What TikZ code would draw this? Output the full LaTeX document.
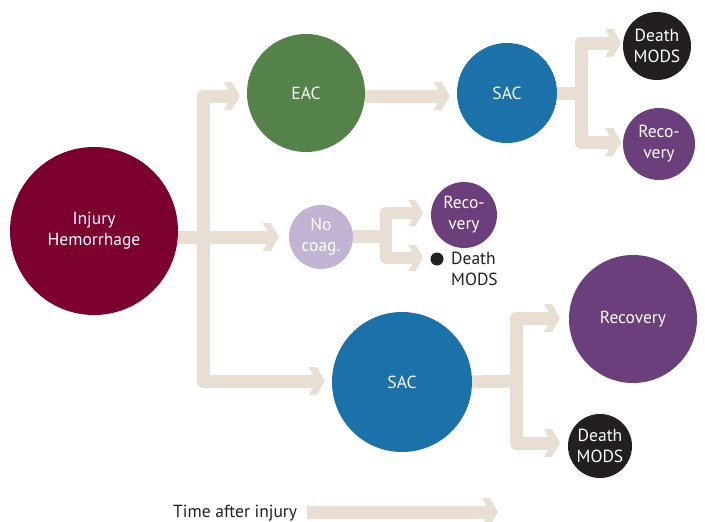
\documentclass[tikz,border=0pt]{standalone}
\usepackage{fontspec}
\setmainfont{PT Sans}
\usetikzlibrary{calc}
\definecolor{beige}{HTML}{E8DED2}
\definecolor{injc}{HTML}{7B0030}
\definecolor{eacc}{HTML}{548248}
\definecolor{sacc}{HTML}{1B72A8}
\definecolor{blackc}{HTML}{231F20}
\definecolor{purc}{HTML}{6A3F7B}
\definecolor{lpurc}{HTML}{C1B3D1}
\begin{document}
\begin{tikzpicture}[x=1pt,y=-1pt,
  lbl/.style={font=\fontsize{17.5}{21}\selectfont},
  circ/.style={circle,inner sep=0pt,text=white,align=center,lbl},
  conn/.style={draw=beige,line width=13pt,line join=round,line cap=butt},
  connsm/.style={draw=beige,line width=11.5pt,line join=round,line cap=butt},
  chev/.pic={\fill[beige] (-16,-14) -- (-8,-14) -- (0,0) -- (-8,14) -- (-16,14) -- (-8,0) -- cycle;}
]
\useasboundingbox (0,0) rectangle (705,522);

% nodes
\node[circ,fill=injc,minimum size=168pt] (inj) at (94,231) {Injury\\Hemorrhage};
\node[circ,fill=eacc,minimum size=118pt] (eac) at (306,93) {EAC};
\node[circ,fill=sacc,minimum size=100pt] (sac1) at (507,93) {SAC};
\node[circ,fill=blackc,minimum size=68pt] (d1) at (657,46) {Death\\MODS};
\node[circ,fill=purc,minimum size=72pt] (r1) at (659,144) {Reco-\\very};
\node[circ,fill=lpurc,minimum size=64pt] (nc) at (321,237) {No\\coag.};
\node[circ,fill=purc,minimum size=66pt] (r2) at (464,215) {Reco-\\very};
\node[circle,fill=blackc,inner sep=0pt,minimum size=13pt] (dot) at (437,259) {};
\node[anchor=north west,inner sep=0pt,align=left,text=blackc,lbl] (d2) at (451,252) {Death\\MODS};
\node[circ,fill=sacc,minimum size=140pt] (sac2) at (402,382) {SAC};
\node[circ,fill=purc,minimum size=128pt] (r3) at (633,319) {Recovery};
\node[circ,fill=blackc,minimum size=64pt] (d3) at (600,446) {Death\\MODS};
\node[anchor=base west,inner sep=0pt,text=blackc,lbl] (time) at (173,517) {Time after injury};

% coordinates for the main tree
\coordinate (b1) at (203,96);
\coordinate (b2) at (203,381);
\coordinate (tEAC) at ($(eac.west)+(-7,3)$);
\coordinate (tNC) at ($(nc.west)+(-10,0)$);
\coordinate (tSAC2) at ($(sac2.west)+(-7,-1)$);
\draw[conn] ($(tEAC)+(-8,0)$) -- (b1) -- (b2) -- ($(tSAC2)+(-8,0)$);
\draw[conn] (inj.east |- tNC) -- ($(tNC)+(-8,0)$);
\pic at (tEAC) {chev};
\pic at (tNC) {chev};
\pic at (tSAC2) {chev};

% EAC -> SAC
\coordinate (tSAC1) at ($(sac1.west)+(-7,3)$);
\draw[conn] (eac.east |- tSAC1) -- ($(tSAC1)+(-8,0)$);
\pic at (tSAC1) {chev};

% SAC1 branch
\coordinate (c1) at (581,93);
\coordinate (tD1) at (621,43);
\coordinate (tR1) at (621,142);
\draw[conn] (sac1.east) -- (c1);
\draw[conn] ($(tD1)+(-8,0)$) -- (c1 |- tD1) -- (c1 |- tR1) -- ($(tR1)+(-8,0)$);
\pic at (tD1) {chev};
\pic at (tR1) {chev};

% No coag branch
\coordinate (c2) at (386,236);
\coordinate (tR2) at (423,213);
\coordinate (tD2) at (423,258);
\draw[conn] (nc.east |- c2) -- (c2);
\draw[connsm] ($(tR2)+(-7,0)$) -- (c2 |- tR2) -- (c2 |- tD2) -- ($(tD2)+(-7,0)$);
\pic[scale=0.92] at (tR2) {chev};
\pic[scale=0.92] at (tD2) {chev};

% SAC2 branch
\coordinate (c3) at (516,381);
\coordinate (tR3) at (560,318);
\coordinate (tD3) at (560,443);
\draw[conn] (sac2.east) -- (c3);
\draw[conn] ($(tR3)+(-8,0)$) -- (c3 |- tR3) -- (c3 |- tD3) -- ($(tD3)+(-8,0)$);
\pic at (tR3) {chev};
\pic at (tD3) {chev};

% time arrow
\coordinate (tS) at (307,512);
\coordinate (tT) at (498,512);
\draw[conn] (tS) -- ($(tT)+(-8,0)$);
\pic at (tT) {chev};
\end{tikzpicture}
\end{document}
